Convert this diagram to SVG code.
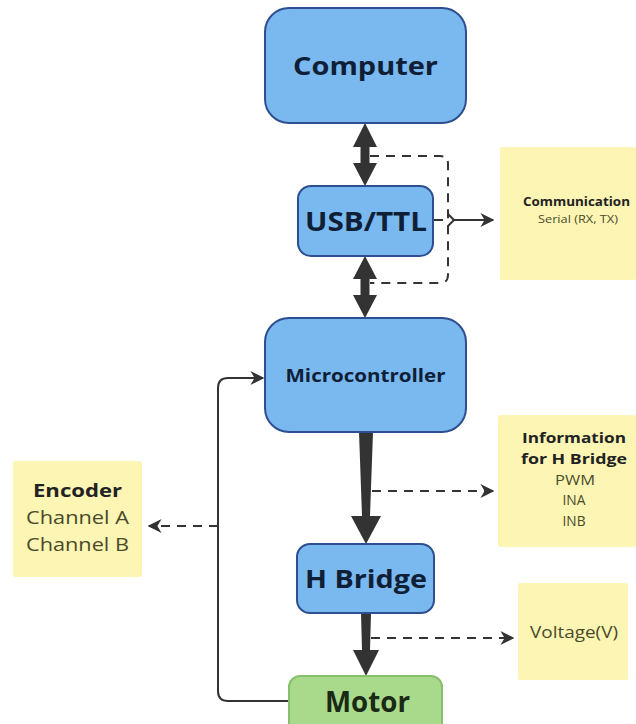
<svg xmlns="http://www.w3.org/2000/svg" width="636" height="724" viewBox="0 0 636 724">
<defs>
<style>
.blue{fill:#7ab8f0;stroke:#2e4f8f;stroke-width:2}
.green{fill:#a9d98b;stroke:#86c06c;stroke-width:2}
.note{fill:#fcf5b4}
text{font-family:"Open Sans","Liberation Sans",sans-serif;text-anchor:middle}
.t{fill:#0f2036;font-weight:700}
.m{fill:#1a2a14;font-weight:700}
.n{fill:#4a4a2a}
.nb{fill:#222;font-weight:700}
.dash{fill:none;stroke:#333;stroke-width:2;stroke-dasharray:9 7}
.solid{fill:none;stroke:#333;stroke-width:2}
.fillc{fill:#333}
</style>
<marker id="ah" viewBox="0 0 10 10" refX="9" refY="5" markerWidth="7" markerHeight="7" orient="auto" markerUnits="strokeWidth">
<path d="M0,0 L10,5 L0,10 L3,5 Z" fill="#333"/>
</marker>
</defs>

<g id="connectors">
<polygon class="fillc" points="365,123 377,147 369.5,147 369.5,163 377,163 365,186 353,163 360.5,163 360.5,147 353,147"/>
<polygon class="fillc" points="365,256 377,279 369.5,279 369.5,295 377,295 365,318 353,295 360.5,295 360.5,279 353,279"/>
<path class="dash" d="M370,156 H440 Q448,156 448,164 V275 Q448,283 440,283 H370"/>
<path class="dash" d="M434,220 H450"/>
<path class="solid" d="M448,214 L454,220 L448,226"/>
<path class="solid" d="M454,220 H493" marker-end="url(#ah)"/>
<polygon class="fillc" points="359,432 373,432 370,516 381,516 366,544 351,516 362,516"/>
<path class="dash" d="M372,491 H493" marker-end="url(#ah)"/>
<polygon class="fillc" points="361,613 371,613 370,650 379,650 366,676 353,650 362,650"/>
<path class="dash" d="M371,638 H513" marker-end="url(#ah)"/>
<path class="solid" d="M289,701 H228 Q218,701 218,691 V388 Q218,378 228,378 H263" marker-end="url(#ah)"/>
<path class="dash" d="M218,526 H149" marker-end="url(#ah)"/>
</g>

<g id="computer">
<rect class="blue" x="265" y="8" width="201" height="115" rx="24"/>
<text class="t" x="365.500" y="75" font-size="25" textLength="145" lengthAdjust="spacingAndGlyphs">Computer</text>
</g>

<g id="usb-ttl">
<rect class="blue" x="298" y="186" width="135" height="70" rx="13"/>
<text class="t" x="366" y="231" font-size="27" textLength="122" lengthAdjust="spacingAndGlyphs">USB/TTL</text>
</g>

<g id="microcontroller">
<rect class="blue" x="265" y="318" width="201" height="114" rx="24"/>
<text class="t" x="365.500" y="382" font-size="18" textLength="160" lengthAdjust="spacingAndGlyphs">Microcontroller</text>
</g>

<g id="h-bridge">
<rect class="blue" x="297" y="544" width="137" height="69" rx="13"/>
<text class="t" x="366" y="588" font-size="25" textLength="122" lengthAdjust="spacingAndGlyphs">H Bridge</text>
</g>

<g id="motor">
<rect class="green" x="289" y="676" width="153" height="60" rx="11"/>
<text class="m" x="367.500" y="712" font-size="29" textLength="85" lengthAdjust="spacingAndGlyphs">Motor</text>
</g>

<g id="note-communication">
<rect class="note" x="500" y="147" width="136" height="133" rx="2"/>
<text class="nb" x="576.500" y="206" font-size="12" textLength="107" lengthAdjust="spacingAndGlyphs">Communication</text>
<text class="n" x="578" y="223" font-size="11.500" textLength="80" lengthAdjust="spacingAndGlyphs">Serial (RX, TX)</text>
</g>

<g id="note-information">
<rect class="note" x="498" y="415" width="138" height="132" rx="2"/>
<text class="nb" x="574" y="443" font-size="14" textLength="104" lengthAdjust="spacingAndGlyphs">Information</text>
<text class="nb" x="574" y="464" font-size="14" textLength="106" lengthAdjust="spacingAndGlyphs">for H Bridge</text>
<text class="n" x="575" y="485" font-size="14" textLength="40" lengthAdjust="spacingAndGlyphs">PWM</text>
<text class="n" x="574" y="505" font-size="14" textLength="23" lengthAdjust="spacingAndGlyphs">INA</text>
<text class="n" x="574" y="526" font-size="14" textLength="23" lengthAdjust="spacingAndGlyphs">INB</text>
</g>

<g id="note-encoder">
<rect class="note" x="13" y="461" width="129" height="116" rx="2"/>
<text class="nb" x="77.500" y="497" font-size="18" textLength="89" lengthAdjust="spacingAndGlyphs">Encoder</text>
<text class="n" x="77.500" y="524" font-size="18" textLength="103" lengthAdjust="spacingAndGlyphs">Channel A</text>
<text class="n" x="77.500" y="551" font-size="18" textLength="103" lengthAdjust="spacingAndGlyphs">Channel B</text>
</g>

<g id="note-voltage">
<rect class="note" x="518" y="583" width="110" height="97" rx="2"/>
<text class="n" x="574" y="638" font-size="16" textLength="88" lengthAdjust="spacingAndGlyphs">Voltage(V)</text>
</g>
</svg>
